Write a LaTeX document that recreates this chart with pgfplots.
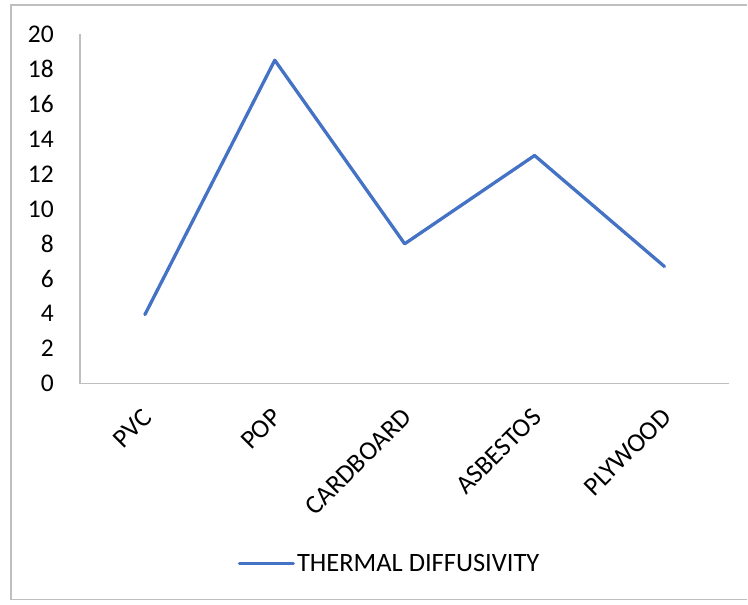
\documentclass[border=0pt]{standalone}
\usepackage{pgfplots}
\pgfplotsset{compat=1.18}
\usepackage{fontspec}
\setmainfont{Carlito}
\definecolor{xlblue}{HTML}{4472C4}
\definecolor{xlgray}{HTML}{BFBFBF}
\begin{document}
\begin{tikzpicture}
\begin{axis}[
  width=650bp, height=350bp, scale only axis,
  xmin=-0.5, xmax=4.5, ymin=0, ymax=20,
  axis x line=bottom, axis y line=left,
  axis line style={-, draw=xlgray, line width=1.2bp},
  xtick={0,1,2,3,4},
  xticklabels={PVC,POP,CARDBOARD,ASBESTOS,PLYWOOD},
  ytick={0,2,...,20},
  major tick length=0pt,
  /pgf/number format/assume math mode=true,
  yticklabel style={font=\fontsize{25.5bp}{30bp}\selectfont, text=black, anchor=east, inner sep=0pt, xshift=-26bp},
  xticklabel style={font=\fontsize{26.5bp}{30bp}\selectfont, text=black, xshift=-4bp, yshift=-23bp, rotate=45, anchor=north east, inner sep=0pt},
  legend style={draw=none, fill=none, at={(axis description cs:0.243,-0.514)}, anchor=west,
    font=\fontsize{26.5bp}{30bp}\selectfont, inner sep=0pt, outer sep=0pt},
  legend cell align=left,
  legend image code/.code={\draw[#1, line cap=round] (0bp,0bp) -- (54bp,0bp);},
  clip=false,
]
\addplot[color=xlblue, line width=3.3bp, line cap=round, line join=round] coordinates {
  (0,3.95) (1,18.5) (2,8.0) (3,13.05) (4,6.7)
};
\addlegendentry{THERMAL DIFFUSIVITY}
\coordinate (O) at (rel axis cs:0,0);
\end{axis}
\path ([shift={(-80bp,-221bp)}]O) coordinate (BL) rectangle ++(748bp,605bp);
\draw[xlgray, line width=1.2bp]
  ([shift={(748bp,5bp)}]BL) -- ([shift={(11bp,5bp)}]BL) -- ([shift={(11bp,600bp)}]BL) -- ([shift={(748bp,600bp)}]BL);
\end{tikzpicture}
\end{document}
